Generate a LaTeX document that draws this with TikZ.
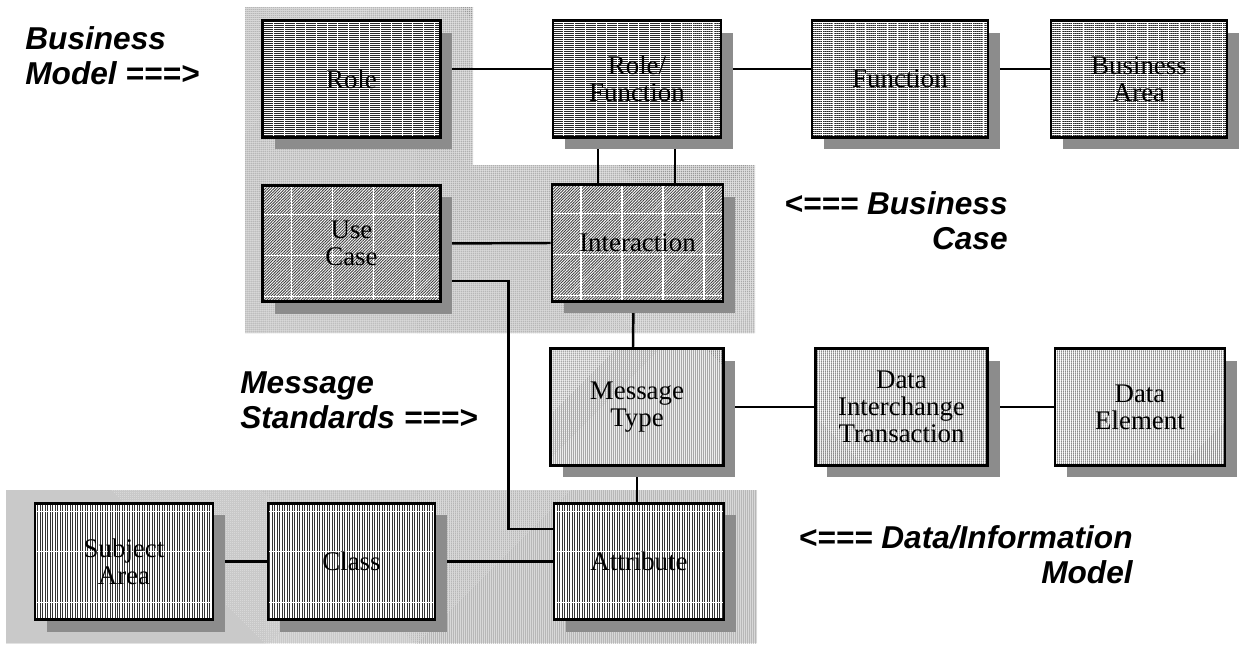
\documentclass[tikz,border=0pt]{standalone}
\usepackage{fontspec}
\setmainfont{Liberation Serif}
\newfontfamily\tagfont{Liberation Sans}
\usetikzlibrary{patterns.meta,shadows,calc}
\pgfdeclarelayer{regions}
\pgfdeclarelayer{wires}
\pgfsetlayers{regions,wires,main}

% white streaks drawn inside the boxes
\newcommand\bizstreaks{%
  \foreach \k in {1,...,17}
    \draw[white, line width=0.35pt] ([xshift={\k*0.214cm}]path picture bounding box.north west) -- ++(0,-3cm);}
\newcommand\casegrid{%
  \foreach \k in {0,...,3}
    \draw[white, line width=0.6pt] ([xshift={0.58cm+\k*0.82cm}]path picture bounding box.north west) -- ++(0,-3cm);
  \foreach \k in {0,...,2}
    \draw[white, line width=0.6pt] ([yshift={-0.58cm-\k*0.82cm}]path picture bounding box.north west) -- ++(4cm,0);}
\newcommand\datastreaks{%
  \foreach \d in {0.16,0.96,1.98}
    \draw[white, line width=0.6pt] ([yshift={-\d cm}]path picture bounding box.north west) -- ++(4cm,0);}

\tikzset{
  entity/.style={draw=black, line width=1.5pt, minimum width=3.45cm, minimum height=2.33cm,
    inner sep=2pt, align=center, font=\fontsize{15.3}{15.5}\selectfont,
    drop shadow={shadow xshift=0.24cm, shadow yshift=-0.24cm, fill=black!45, opacity=1},
    preaction={fill=white}},
  bizbox/.style={entity, pattern={Lines[angle=0, distance=0.04cm, line width=0.6pt]},
    pattern color=black!85, path picture=\bizstreaks},
  casebox/.style={entity, pattern={Lines[angle=45, distance=0.04cm, line width=0.5pt]},
    pattern color=black!75, path picture=\casegrid},
  msgbox/.style={entity, pattern={Dots[distance=0.04cm, radius=0.36pt]}, pattern color=black!80},
  databox/.style={entity, pattern={Lines[angle=90, distance=0.05cm, line width=0.55pt]},
    pattern color=black!80, path picture=\datastreaks},
  region/.style={preaction={fill=black!12}, pattern={Dots[distance=0.04cm, radius=0.34pt]},
    pattern color=black!50},
  wire/.style={line width=1.4pt},
  tagtext/.style={font=\tagfont\bfseries\itshape\fontsize{18}{20}\selectfont, inner sep=0pt}
}

\begin{document}
\begin{tikzpicture}[x=0.02cm, y=-0.02cm]
  \useasboundingbox (0,0) rectangle (1241,649);

  % shaded regions behind the boxes
  \begin{pgfonlayer}{regions}
    \path[region] (245,7) -- (473,7) -- (473,165) -- (755,165) -- (755,333) -- (245,333) -- cycle;
    \path[region] (6,490) rectangle (757,643);
  \end{pgfonlayer}

  % --- Business model row ---
  \node[bizbox, minimum width=3.55cm] (role) at (351.5,79) {Role};
  \node[bizbox, minimum width=3.36cm] (rolefn) at (637,79) {Role/\\Function};
  \node[bizbox, minimum width=3.52cm] (func) at (900,79) {Function};
  \node[bizbox, minimum width=3.52cm] (busarea) at (1139,79) {Business\\Area};

  % --- Business case row ---
  \node[casebox, minimum width=3.55cm] (usecase) at (351.5,243.5) {Use\\Case};
  \node[casebox, minimum width=3.42cm] (interact) at (637.5,243) {Interaction};

  % --- Message standards row ---
  \node[msgbox] (msgtype) at (637,407) {Message\\Type};
  \node[msgbox] (dit) at (901.5,407) {Data\\Interchange\\Transaction};
  \node[msgbox, minimum width=3.4cm] (dataelem) at (1140,407) {Data\\Element};

  % --- Data/information model row ---
  \node[databox, minimum width=3.56cm] (subjarea) at (124,561.5) {Subject\\Area};
  \node[databox, minimum width=3.34cm] (class) at (351.5,561.5) {Class};
  \node[databox, minimum width=3.4cm] (attrib) at (639,561.5) {Attribute};

  % connectors
  \begin{pgfonlayer}{wires}
    \draw[wire] ([yshift=0.2cm]role.east) -- ([yshift=0.2cm]rolefn.west);
    \draw[wire] ([yshift=0.2cm]rolefn.east) -- ([yshift=0.2cm]func.west);
    \draw[wire] ([yshift=0.2cm]func.east) -- ([yshift=0.2cm]busarea.west);
    \draw[wire] ([xshift=-0.78cm]rolefn.south) -- ([xshift=-0.78cm]rolefn.south |- interact.north);
    \draw[wire] ([xshift=0.76cm]rolefn.south) -- ([xshift=0.76cm]rolefn.south |- interact.north);
    \draw[wire] (usecase.east) -- (interact.west);
    \draw[wire] ([yshift=-0.75cm]usecase.east) -- ++(68,0) |- ([yshift=0.65cm]attrib.west);
    \draw[wire] ([xshift=-0.08cm]interact.south) -- ([xshift=-0.08cm]msgtype.north);
    \draw[wire] (msgtype.south) -- (msgtype.south |- attrib.north);
    \draw[wire] (msgtype.east) -- (dit.west);
    \draw[wire] (dit.east) -- (dataelem.west);
    \draw[wire] (subjarea.east) -- (class.west);
    \draw[wire] (class.east) -- (attrib.west);
  \end{pgfonlayer}

  % level labels
  \node[tagtext, align=left, anchor=north west] (bizmodel) at (25,26) {Business\\Model ===>};
  \node[tagtext, align=right, anchor=north east] (bizcase) at (1008,191) {<=== Business\\Case};
  \node[tagtext, align=left, anchor=north west] (msgstd) at (240,371) {Message\\Standards ===>};
  \node[tagtext, align=right, anchor=north east] (datamodel) at (1133,525) {<=== Data/Information\\Model};
\end{tikzpicture}
\end{document}
